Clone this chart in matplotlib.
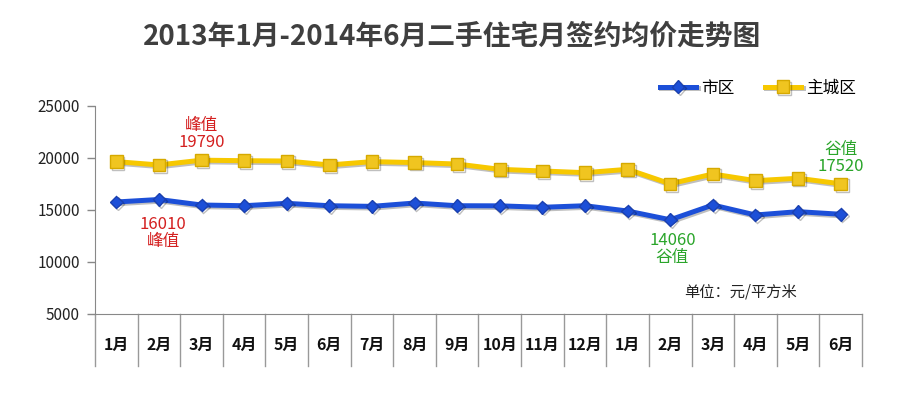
import matplotlib
matplotlib.use("Agg")
import matplotlib.pyplot as plt
import matplotlib.patheffects as pe
from matplotlib.transforms import blended_transform_factory

plt.rcParams['font.family'] = ['Noto Sans CJK SC', 'DejaVu Sans']

months = ["1月", "2月", "3月", "4月", "5月", "6月", "7月", "8月", "9月",
          "10月", "11月", "12月", "1月", "2月", "3月", "4月", "5月", "6月"]
city = [15770, 16010, 15480, 15410, 15640, 15410, 15350, 15670, 15410,
        15400, 15260, 15410, 14900, 14060, 15480, 14520, 14840, 14590]
main_city = [19650, 19330, 19790, 19740, 19710, 19330, 19650, 19560, 19420,
             18910, 18750, 18590, 18910, 17520, 18460, 17820, 18050, 17520]
yticks = [5000, 10000, 15000, 20000, 25000]

fig = plt.figure(figsize=(9, 3.94), dpi=100)
ax = fig.add_axes([95/900, (394-314)/394, (862-95)/900, 208/394])

x = list(range(len(months)))
shadow = [pe.SimpleLineShadow(offset=(1.2, -1.2), alpha=0.25), pe.Normal()]
ax.plot(x, main_city, color="#f7c800", lw=3.6, marker="s", markersize=9,
        markerfacecolor="#f0c520", markeredgecolor="#d6a900", markeredgewidth=1,
        label="主城区", path_effects=shadow, zorder=3)
ax.plot(x, city, color="#1c4fd8", lw=3.6, marker="D", markersize=6.5,
        markerfacecolor="#1c4fd8", markeredgecolor="#1a40b0",
        label="市区", path_effects=shadow, zorder=3)

ax.set_xlim(-0.5, len(months) - 0.5)
ax.set_ylim(5000, 25000)
ax.set_yticks(yticks)
ax.set_yticklabels([str(v) for v in yticks], fontsize=11, color="#222222")
ax.tick_params(axis='y', length=6, width=1, color="#888888", pad=5)
ax.set_xticks([])
for s in ["top", "right"]:
    ax.spines[s].set_visible(False)
ax.spines["left"].set_color("#888888")
ax.spines["bottom"].set_color("#888888")

# category table below axis
trans = blended_transform_factory(ax.transData, ax.transAxes)
depth = 52/208
for i in range(len(months) + 1):
    ax.plot([i - 0.5, i - 0.5], [0, -depth], transform=trans, color="#999999",
            lw=1, clip_on=False)
for i, m in enumerate(months):
    ax.text(i, -31/208, m, transform=trans, ha="center", va="center",
            fontsize=11.5, fontweight="bold", color="#111111")

# annotations
red = "#d42020"
green = "#2aa52a"
ax.text(2.0, 20650, "峰值\n19790", ha="center", va="bottom", color=red,
        fontsize=12, linespacing=1.0)
ax.text(1.1, 14400, "16010\n峰值", ha="center", va="top", color=red,
        fontsize=12, linespacing=1.0)
ax.text(13.05, 12900, "14060\n谷值", ha="center", va="top", color=green,
        fontsize=12, linespacing=1.0)
ax.text(17.0, 18350, "谷值\n17520", ha="center", va="bottom", color=green,
        fontsize=12, linespacing=1.0)
ax.text(14.65, 7100, "单位：元/平方米", ha="center", va="center",
        color="#222222", fontsize=11)

# legend
handles, labels = ax.get_legend_handles_labels()
leg = fig.legend([handles[1], handles[0]], [labels[1], labels[0]],
                 loc="center", bbox_to_anchor=(758/900, 1 - 88/394), ncol=2,
                 frameon=False, fontsize=12, handlelength=2.2,
                 columnspacing=1.8, handletextpad=0.3)

fig.text(452/900, 1 - 37/394, "2013年1月-2014年6月二手住宅月签约均价走势图",
         ha="center", va="center", fontsize=20, fontweight="heavy",
         color="#3f3f3f")

fig.savefig("out.png", dpi=100)
